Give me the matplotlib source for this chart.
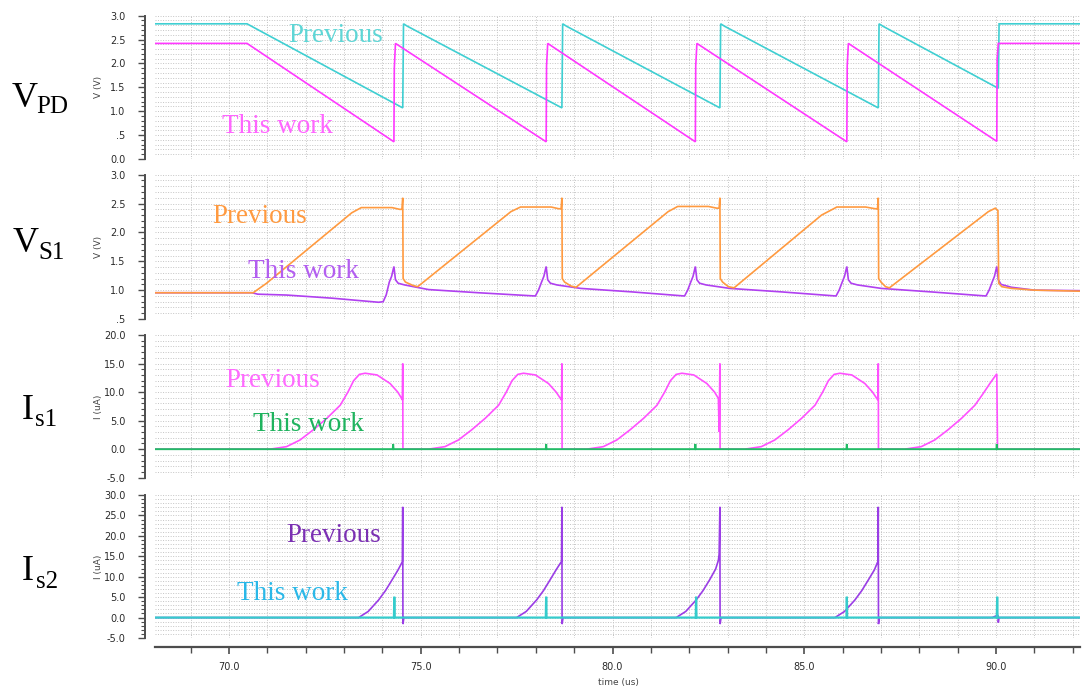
import matplotlib.pyplot as plt
from matplotlib.ticker import MultipleLocator, FuncFormatter

# ---- data (time in us) ----
# V_PD
vpd_prev_t = [68.0, 70.47, 74.53, 74.55, 74.65, 78.68, 78.70, 78.80, 82.80, 82.82, 82.92,
              86.93, 86.95, 87.05, 90.06, 90.08, 92.3]
vpd_prev_v = [2.83, 2.83, 1.07, 2.83, 2.78, 1.07, 2.83, 2.78, 1.07, 2.83, 2.78,
              1.07, 2.83, 2.78, 1.48, 2.83, 2.83]
vpd_this_t = [68.0, 70.47, 74.30, 74.31, 74.34, 78.27, 78.28, 78.31, 82.16, 82.17, 82.20,
              86.11, 86.12, 86.15, 90.02, 90.03, 90.06, 92.3]
vpd_this_v = [2.42, 2.42, 0.36, 1.90, 2.42, 0.36, 1.95, 2.42, 0.36, 1.95, 2.42,
              0.36, 1.95, 2.42, 0.37, 2.10, 2.42, 2.42]

# V_S1
vs1_prev_t = [68.0, 70.63, 70.98, 73.20, 73.45, 74.25, 74.45, 74.51, 74.53, 74.54, 74.60, 74.80, 74.92,
              77.35, 77.60, 78.40, 78.60, 78.66, 78.68, 78.69, 78.75, 78.92, 79.05,
              81.45, 81.70, 82.50, 82.72, 82.78, 82.80, 82.81, 82.87, 83.02, 83.17,
              85.45, 85.85, 86.60, 86.85, 86.91, 86.93, 86.94, 87.00, 87.12, 87.22,
              89.80, 89.98, 90.05, 90.07, 90.15, 90.40, 91.00, 92.3]
vs1_prev_v = [0.955, 0.955, 1.12, 2.34, 2.43, 2.43, 2.40, 2.40, 2.60, 1.20, 1.14, 1.08, 1.06,
              2.36, 2.44, 2.44, 2.41, 2.41, 2.60, 1.20, 1.14, 1.07, 1.05,
              2.36, 2.45, 2.45, 2.42, 2.42, 2.60, 1.20, 1.14, 1.06, 1.04,
              2.30, 2.44, 2.44, 2.41, 2.41, 2.60, 1.20, 1.14, 1.06, 1.04,
              2.36, 2.42, 2.38, 1.12, 1.06, 1.03, 1.00, 0.98]
vs1_this_t = [68.0, 70.60, 70.75, 71.50, 72.70, 73.90,
              74.02, 74.10, 74.18, 74.24, 74.30, 74.34, 74.41, 74.58, 75.20, 76.50, 77.95,
              77.99, 78.07, 78.15, 78.21, 78.27, 78.31, 78.38, 78.55, 79.17, 80.50, 81.85,
              81.88, 81.96, 82.04, 82.10, 82.16, 82.20, 82.27, 82.44, 83.06, 84.40, 85.80,
              85.83, 85.91, 85.99, 86.05, 86.11, 86.15, 86.22, 86.39, 87.01, 88.30, 89.71,
              89.74, 89.82, 89.90, 89.96, 90.02, 90.06, 90.13, 90.40, 91.00, 92.3]
vs1_this_v = [0.955, 0.955, 0.93, 0.915, 0.86, 0.79,
              0.80, 0.92, 1.14, 1.24, 1.41, 1.18, 1.12, 1.09, 1.01, 0.955, 0.90,
              0.90, 1.00, 1.14, 1.24, 1.41, 1.18, 1.12, 1.09, 1.03, 0.97, 0.90,
              0.90, 1.00, 1.14, 1.24, 1.41, 1.18, 1.12, 1.09, 1.03, 0.97, 0.90,
              0.90, 1.00, 1.14, 1.24, 1.41, 1.18, 1.12, 1.09, 1.03, 0.97, 0.90,
              0.90, 1.00, 1.14, 1.24, 1.41, 1.18, 1.10, 1.05, 1.00, 0.99]

# I_s1 (uA)
is1_prev_t = [68.0,
              71.07, 71.50, 71.85, 72.20, 72.55, 72.90, 73.10, 73.25, 73.40, 73.55, 73.86, 74.20, 74.40, 74.50, 74.52, 74.53, 74.535,
              75.20, 75.63, 75.98, 76.33, 76.68, 77.03, 77.23, 77.38, 77.53, 77.68, 77.99, 78.33, 78.53, 78.64, 78.67, 78.68, 78.685,
              79.33, 79.76, 80.11, 80.46, 80.81, 81.16, 81.36, 81.51, 81.66, 81.81, 82.12, 82.46, 82.66, 82.76, 82.78, 82.80, 82.805,
              83.45, 83.88, 84.23, 84.58, 84.93, 85.28, 85.48, 85.63, 85.78, 85.93, 86.24, 86.58, 86.78, 86.89, 86.92, 86.93, 86.935,
              87.62, 88.05, 88.40, 88.75, 89.10, 89.45, 89.65, 89.85, 90.02, 90.04, 92.3]
is1_prev_v = [0.0,
              0.0, 0.44, 1.6, 3.4, 5.4, 7.7, 10.0, 12.0, 13.1, 13.3, 13.0, 11.5, 10.0, 8.9, 8.6, 15.0, 0.0,
              0.0, 0.44, 1.6, 3.4, 5.4, 7.7, 10.0, 12.0, 13.1, 13.3, 13.0, 11.5, 10.0, 8.9, 8.6, 15.0, 0.0,
              0.0, 0.44, 1.6, 3.4, 5.4, 7.7, 10.0, 12.0, 13.1, 13.3, 13.0, 11.5, 10.0, 8.9, 3.0, 15.0, 0.0,
              0.0, 0.44, 1.6, 3.4, 5.4, 7.7, 10.0, 12.0, 13.1, 13.3, 13.0, 11.5, 10.0, 8.9, 8.6, 15.0, 0.0,
              0.0, 0.44, 1.6, 3.4, 5.4, 7.7, 9.6, 11.6, 13.2, 0.0, 0.0]
is1_this_t = [68.0, 74.27, 74.28, 74.29, 78.26, 78.27, 78.28, 82.15, 82.16, 82.17,
              86.10, 86.11, 86.12, 90.01, 90.02, 90.03, 92.3]
is1_this_v = [0.0, 0.0, 0.9, 0.0, 0.0, 0.9, 0.0, 0.0, 0.9, 0.0,
              0.0, 0.9, 0.0, 0.0, 0.9, 0.0, 0.0]

# I_s2 (uA)
is2_prev_t = [68.0,
              73.38, 73.63, 73.90, 74.08, 74.25, 74.41, 74.50, 74.52, 74.53, 74.535, 74.56,
              77.50, 77.75, 78.02, 78.20, 78.37, 78.53, 78.64, 78.67, 78.68, 78.685, 78.71,
              81.66, 81.91, 82.18, 82.36, 82.53, 82.69, 82.76, 82.78, 82.80, 82.805, 82.83,
              85.80, 86.05, 86.32, 86.50, 86.67, 86.83, 86.90, 86.92, 86.93, 86.935, 86.96,
              89.90, 90.00, 90.05, 90.06, 90.08, 92.3]
is2_prev_v = [0.0,
              0.0, 1.5, 4.3, 6.6, 9.2, 11.7, 13.3, 13.7, 27.1, -1.6, 0.0,
              0.0, 1.5, 4.3, 6.6, 9.2, 11.7, 13.3, 13.7, 27.1, -1.6, 0.0,
              0.0, 1.5, 4.3, 6.6, 9.2, 11.9, 14.0, 15.5, 27.1, -1.6, 0.0,
              0.0, 1.5, 4.3, 6.6, 9.2, 11.7, 13.3, 13.7, 27.1, -1.6, 0.0,
              0.0, 0.4, 0.6, -1.2, 0.0, 0.0]
is2_this_t = [68.0, 74.30, 74.31, 74.32, 78.26, 78.27, 78.28, 82.17, 82.18, 82.19,
              86.10, 86.11, 86.12, 90.02, 90.03, 90.04, 92.3]
is2_this_v = [0.0, 0.0, 5.1, 0.0, 0.0, 5.1, 0.0, 0.0, 5.1, 0.0,
              0.0, 5.1, 0.0, 0.0, 5.1, 0.0, 0.0]

# ---- layout (pixels of the 1086x689 picture) ----
W, H = 1086, 689
X_LEFT, X_RIGHT = 155, 1080
XLIM = (68.07, 92.19)

panels = [
    dict(top=15.7, bottom=159.0, ylim=(0.0, 3.0), major=0.5, minor=0.1, ylabel="V (V)",
         series=[(vpd_prev_t, vpd_prev_v, "#3fcfd2", 1.2), (vpd_this_t, vpd_this_v, "#ff38ff", 1.2)],
         labels=[("Previous", 71.55, 2.58, "#5fd6d6"), ("This work", 69.82, 0.69, "#ff66ff")],
         name=("V", "PD", 12, 107, 36, 113)),
    dict(top=174.7, bottom=319.0, ylim=(0.5, 3.0), major=0.5, minor=0.1, ylabel="V (V)",
         series=[(vs1_this_t, vs1_this_v, "#b040f0", 1.2), (vs1_prev_t, vs1_prev_v, "#ff9a40", 1.2)],
         labels=[("Previous", 69.56, 2.28, "#ff9a40"), ("This work", 70.50, 1.33, "#b35ef0")],
         name=("V", "S1", 13, 252, 38, 259)),
    dict(top=335.0, bottom=477.7, ylim=(-5.0, 20.0), major=5.0, minor=1.0, ylabel="I (uA)",
         series=[(is1_prev_t, is1_prev_v, "#ff50ff", 1.2), (is1_this_t, is1_this_v, "#22bb66", 1.4)],
         labels=[("Previous", 69.90, 12.1, "#ff6aff"), ("This work", 70.63, 4.4, "#1fb35e")],
         name=("I", "s1", 22, 419, 35, 426)),
    dict(top=495.0, bottom=638.0, ylim=(-5.0, 30.0), major=5.0, minor=1.0, ylabel="I (uA)",
         series=[(is2_prev_t, is2_prev_v, "#9a3de6", 1.2), (is2_this_t, is2_this_v, "#35cccc", 1.6)],
         labels=[("Previous", 71.49, 20.2, "#7b30b3"), ("This work", 70.21, 6.0, "#2ab8e8")],
         name=("I", "s2", 22, 580, 36, 588)),
]

SERIF = "Liberation Serif"
SPINE = "#4d4d4d"
GRID = "#c4c4c4"


def ytick_fmt(v, pos):
    s = f"{v:.1f}"
    if s == "0.5":
        s = ".5"
    return s


fig = plt.figure(figsize=(W / 100, H / 100), dpi=100)

for i, p in enumerate(panels):
    ax = fig.add_axes([X_LEFT / W, 1 - p["bottom"] / H,
                       (X_RIGHT - X_LEFT) / W, (p["bottom"] - p["top"]) / H])
    for t, v, c, lw in p["series"]:
        ax.plot(t, v, color=c, lw=lw, solid_joinstyle="miter")
    ax.set_xlim(XLIM)
    ax.set_ylim(p["ylim"])

    ax.xaxis.set_major_locator(MultipleLocator(5))
    ax.xaxis.set_minor_locator(MultipleLocator(1))
    ax.yaxis.set_major_locator(MultipleLocator(p["major"]))
    ax.yaxis.set_minor_locator(MultipleLocator(p["minor"]))
    ax.yaxis.set_major_formatter(FuncFormatter(ytick_fmt))
    ax.xaxis.set_major_formatter(FuncFormatter(lambda v, pos: f"{v:.1f}"))

    ax.grid(which="both", axis="both", color=GRID, lw=0.7, ls=(0, (1, 1.6)))
    ax.set_axisbelow(True)

    for s in ("top", "right"):
        ax.spines[s].set_visible(False)
    ax.spines["left"].set_position(("outward", 7.2))
    ax.spines["left"].set_color(SPINE)
    ax.spines["left"].set_linewidth(1.4)
    ax.tick_params(axis="y", which="major", length=5, width=1, color=SPINE,
                   pad=9, labelsize=7, labelcolor="#2a2a2a")
    ax.tick_params(axis="y", which="minor", length=3, width=0.8, color=SPINE)

    if i < 3:
        ax.spines["bottom"].set_visible(False)
        ax.tick_params(axis="x", which="both", bottom=False, labelbottom=False)
    else:
        ax.spines["bottom"].set_position(("outward", 6.3))
        ax.spines["bottom"].set_color(SPINE)
        ax.spines["bottom"].set_linewidth(1.6)
        ax.tick_params(axis="x", which="major", length=5, width=1.2, color=SPINE,
                       pad=6, labelsize=7, labelcolor="#2a2a2a")
        ax.tick_params(axis="x", which="minor", length=4, width=1.0, color=SPINE)

    for txt, x, y, c in p["labels"]:
        ax.text(x, y, txt, color=c, fontsize=19.5, family=SERIF, ha="left", va="center")

    # rotated unit label
    fig.text(98 / W, 1 - (p["top"] + p["bottom"]) / 2 / H, p["ylabel"], rotation=90,
             ha="center", va="center", fontsize=6.5, color="#444444")

    # big signal name on the left
    big, sub, bx, by, sx, sy = p["name"]
    fig.text(bx / W, 1 - by / H, big, fontsize=26, family=SERIF, ha="left", va="baseline")
    fig.text(sx / W, 1 - sy / H, sub, fontsize=18, family=SERIF, ha="left", va="baseline")

fig.text(618 / W, 1 - 682 / H, "time (us)", ha="center", va="center", fontsize=6.5,
         color="#444444")

fig.savefig("out.png", dpi=100)
